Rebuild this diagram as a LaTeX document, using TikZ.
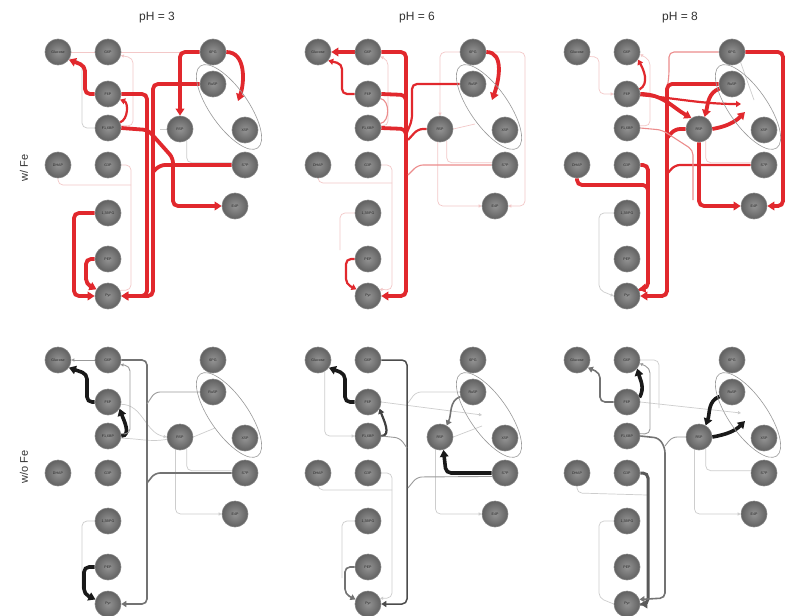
\documentclass[tikz,border=0pt]{standalone}
\usepackage{fontspec}
\setmainfont{Liberation Sans}
\usetikzlibrary{arrows.meta,shapes.geometric}
\pgfdeclarelayer{bg}
\pgfsetlayers{bg,main}
\definecolor{rH}{RGB}{225,40,45}
\definecolor{rL}{RGB}{236,140,140}
\definecolor{rF}{RGB}{243,200,200}
\definecolor{gF}{RGB}{205,205,205}
\tikzset{
 met/.style={circle, minimum size=26pt, inner sep=0pt, draw=black!50, line width=0.6pt,
   inner color=black!42, outer color=black!62, font=\fontsize{3.6}{4}\selectfont, text=black!85},
 ell/.style={ellipse, draw=black!40, line width=0.6pt, minimum width=100pt, minimum height=38pt, inner sep=0pt, rotate=-55},
 rc/.style={rounded corners=5pt},
 tipH/.style={-{Triangle[length=7pt,width=8.5pt]}},
 tipM/.style={-{Triangle[length=5pt,width=6pt]}},
 tipL/.style={-{Triangle[length=3pt,width=3pt]}},
 hR/.style={draw=rH, line width=3.8pt},
 mR/.style={draw=rH, line width=2.2pt},
 lR/.style={draw=rL, line width=1.1pt},
 fR/.style={draw=rF, line width=0.7pt},
 fG/.style={draw=gF, line width=0.7pt},
 hK/.style={draw=black!90, line width=3.6pt},
 hK2/.style={draw=black!65, line width=3pt},
 mK/.style={draw=black!55, line width=1.6pt},
 mK2/.style={draw=black!75, line width=2.2pt},
 mK3/.style={draw=black!70, line width=1.5pt},
 lK/.style={draw=black!40, line width=0.9pt},
 ptitle/.style={font=\fontsize{12}{14}\selectfont, text=black!80},
 rowlab/.style={font=\fontsize{11}{13}\selectfont, text=black!80, rotate=90},
}
\newcommand\metnodes[1]{%
\node[ell] (#1ell) at (229,107) {};
\node[met] (#1glc) at (58,52) {Glucose};
\node[met] (#1g6p) at (108,52) {G6P};
\node[met] (#1f6p) at (108,94) {F6P};
\node[met] (#1fbp) at (108,128) {F1,6BP};
\node[met] (#1dhap) at (58,165) {DHAP};
\node[met] (#1g3p) at (108,165) {G3P};
\node[met] (#1bpg) at (108,213) {1,3BPG};
\node[met] (#1pep) at (108,259) {PEP};
\node[met] (#1pyr) at (108,296) {Pyr};
\node[met] (#1pg) at (213,52) {6PG};
\node[met] (#1ru) at (213,84) {Ru5P};
\node[met] (#1r5p) at (180,129) {R5P};
\node[met] (#1x5p) at (245,130) {X5P};
\node[met] (#1s7p) at (245,165) {S7P};
\node[met] (#1e4p) at (235,206) {E4P};
}
\begin{document}
\begin{tikzpicture}[x=1pt,y=-1pt]
\useasboundingbox (0,0) rectangle (785,616);
\begin{pgfonlayer}{bg}
\fill[white] (0,0) rectangle (785,616);
\end{pgfonlayer}
\node[ptitle] (t1) at (157,18) {pH = 3};
\node[ptitle] (t2) at (417,18) {pH = 6};
\node[ptitle] (t3) at (680,18) {pH = 8};
\node[rowlab] (s1) at (24,168) {w/ Fe};
\node[rowlab] (s2) at (24,467) {w/o Fe};

% ---------- panel a: pH 3, w/ Fe
\begin{scope}[shift={(0,0)}]
\metnodes{a}
\coordinate (aX) at (238,101);
\begin{pgfonlayer}{bg}
\draw[fR] (aglc) -- (ag6p);
\draw[fR] (ag6p) -- (apg);
\draw[fG,rc] (aglc.-30) -- (82,62) -- (82,128) -- (afbp.west);
\draw[fR,rc,tipL] (afbp.10) -- (133,126) -- (133,58) -- (ag6p.-15);
\draw[fG] (ar5p.west) -- (160,129);
\draw[fG,rc] (ar5p.-60) |- (as7p.170);
\draw[fR,rc] (adhap.south) -- (58,185) -- (131,185);
\draw[fR,rc] (ag3p.east) -- (131,165) -- (131,290) -- (apyr.25);
\draw[hR,rc,tipH] (af6p.west) -- (85,94) -- (85,66) -- (aglc.-35);
\draw[hR,rc,tipH] (aru.west) -- (153,84) -- (153,296) -- (apyr.east);
\draw[hR,rc,tipH] (af6p.east) -- (147,94) -- (147,296) -- (apyr.east);
\draw[hR,rc] (as7p.west) -- (160,165) -- (153,172);
\draw[hR,rc,tipH] (afbp.east) -- (148,130) -- (173,158) -- (173,206) -- (ae4p.west);
\draw[hR,rc,tipH] (apg.west) -| (ar5p.north);
\draw[hR,tipH] (apg.east) to[out=0,in=70] (aX);
\draw[mR,tipM] (afbp.25) to[out=20,in=-20] (af6p.-25);
\draw[hR,rc,tipH] (abpg.west) -- (74,213) -- (74,296) -- (apyr.west);
\draw[hR,rc,tipH] (apep.west) -- (86,259) -- (86,284) -- (apyr.150);
\end{pgfonlayer}
\end{scope}

% ---------- panel b: pH 6, w/ Fe
\begin{scope}[shift={(260,0)}]
\metnodes{b}
\coordinate (bX) at (232,100);
\begin{pgfonlayer}{bg}
\draw[fR,rc,tipL] (bpg.west) -| (br5p.north);
\draw[fR,rc,tipL] (br5p.-100) |- (be4p.west);
\draw[fR,rc,tipL] (bpg.east) -- (265,52) -- (265,206) -- (be4p.east);
\draw[fR,rc] (br5p.-60) |- (bs7p.170);
\draw[fR] (br5p.east) -- (215,124);
\draw[fR,rc] (bdhap.south) -- (58,183) -- (132,183);
\draw[fR,rc,tipL] (bg3p.east) -- (132,165) -- (132,290) -- (bpyr.30);
\draw[fR,rc] (bbpg.west) -- (80,213) -- (80,250);
\draw[fR,rc,tipL] (bfbp.10) -- (128,126) -- (128,60) -- (bg6p.-20);
\draw[hR,tipH] (bg6p.west) -- (bglc.east);
\draw[mR,rc,tipM] (bf6p.west) -- (82,94) -- (82,64) -- (bglc.-40);
\draw[hR,rc,tipH] (bg6p.east) -- (146,52) -- (146,296) -- (bpyr.east);
\draw[hR,rc] (bf6p.east) -- (146,95) -- (146,105);
\draw[hR,rc] (bfbp.east) -- (146,129) -- (146,140);
\draw[lR] (bf6p.-20) to[out=-10,in=10] (bfbp.20);
\draw[mR,rc] (bru.west) -- (152,84) -- (152,120) -- (146,135);
\draw[mR,rc] (br5p.west) -- (158,129) -- (148,140);
\draw[lR,rc] (bs7p.west) -- (158,165) -- (148,175);
\draw[hR,tipH] (bpg.east) to[out=0,in=70] (bX);
\draw[mR,rc,tipM] (bpep.west) -- (86,259) -- (86,284) -- (bpyr.150);
\end{pgfonlayer}
\end{scope}

% ---------- panel c: pH 8, w/ Fe
\begin{scope}[shift={(519,0)}]
\metnodes{c}
\coordinate (cA) at (222,104);
\coordinate (cB) at (226,112);
\begin{pgfonlayer}{bg}
\draw[fR,rc,tipL] (cglc.-20) -- (80,57) -- (80,94) -- (cf6p.west);
\draw[fR,rc,tipL] (cfbp.10) -- (131,126) -- (131,60) -- (cg6p.-10);
\draw[fG,rc,tipL] (cbpg.west) -- (80,213) -- (80,290) -- (cpyr.west);
\draw[fR,rc] (cr5p.-60) |- (cs7p.170);
\draw[fG] (cpg.-50) -- (235,100);
\draw[mR,tipM] (cf6p.20) to[out=30,in=-60] (cg6p.-35);
\draw[hR,rc,tipH] (cpg.east) -- (264,52) -- (264,206) -- (ce4p.east);
\draw[lR,rc] (cpg.west) -- (150,52) -- (150,75) -- (148,90);
\draw[hR,rc,tipH] (cru.west) -- (148,84) -- (148,296) -- (cpyr.east);
\draw[hR,rc] (cr5p.west) -- (156,129) -- (148,138);
\draw[mR,rc] (cs7p.west) -- (156,165) -- (148,174);
\draw[hR,tipH] (cru.200) to[out=200,in=75] (cr5p.65);
\draw[hR,tipH] (cf6p.east) to[out=0,in=150] (cr5p.125);
\draw[mR,tipM] (cf6p.-5) to[out=-5,in=180] (cA);
\draw[hR,tipH] (cr5p.east) to[out=10,in=-135] (cB);
\draw[hR,rc,tipH] (cr5p.south) -- (180,206) -- (ce4p.west);
\draw[lR,rc] (cfbp.east) -- (143,130) -- (174,150) -- (174,200);
\draw[hR,rc,tipH] (cdhap.south) -- (58,185) -- (129,185) -- (129,288) -- (cpyr.30);
\draw[hR,rc] (cg3p.east) -- (129,165) -- (129,195);
\end{pgfonlayer}
\end{scope}

% ---------- panel d: pH 3, w/o Fe
\begin{scope}[shift={(0,308)}]
\metnodes{d}
\begin{pgfonlayer}{bg}
\draw[fG,tipL] (df6p.-10) to[out=0,in=170] (dr5p.west);
\draw[fG] (dfbp.-10) to[out=0,in=190] (dr5p.190);
\draw[fG,rc] (dr5p.-60) |- (ds7p.170);
\draw[fG] (dr5p.east) -- (215,120);
\draw[fG,rc,tipL] (dr5p.-110) |- (de4p.west);
\draw[fG,rc] (dbpg.west) -- (82,213) -- (82,280);
\draw[lK,tipL] (dg6p.west) -- (dglc.east);
\draw[hK,rc,tipH] (df6p.west) -- (87,94) -- (87,66) -- (dglc.-35);
\draw[hK,tipH] (dfbp.east) to[out=0,in=-70] (df6p.-30);
\draw[mK,rc,tipM] (dg6p.east) -- (147,52) -- (147,296) -- (dpyr.east);
\draw[lK,rc,tipL] (dfbp.10) -- (130,126) -- (130,58) -- (dg6p.-20);
\draw[lK,rc] (dru.west) -- (155,84) -- (147,96);
\draw[mK,rc] (ds7p.west) -- (155,165) -- (147,175);
\draw[hK,rc,tipH] (dpep.west) -- (84,259) -- (84,286) -- (dpyr.160);
\end{pgfonlayer}
\end{scope}

% ---------- panel e: pH 6, w/o Fe
\begin{scope}[shift={(260,308)}]
\metnodes{e}
\coordinate (eA) at (222,107);
\begin{pgfonlayer}{bg}
\draw[fG,rc] (eru.west) -- (156,84) -- (148,95);
\draw[fG,tipL] (ef6p.east) -- (eA);
\draw[fG] (er5p.east) -- (222,118);
\draw[fG,rc,tipL] (eglc.-60) |- (efbp.west);
\draw[fG,rc,tipL] (eg3p.east) -- (132,165) -- (132,290) -- (epyr.25);
\draw[fG,rc] (edhap.south) -- (58,182) -- (132,182);
\draw[fG,rc,tipL] (er5p.-110) |- (ee4p.west);
\draw[fG,rc] (ebpg.west) -- (82,213) -- (82,270);
\draw[hK,rc,tipH] (ef6p.west) -- (85,94) -- (85,66) -- (eglc.-35);
\draw[mK2,tipM] (efbp.east) to[out=0,in=-70] (ef6p.-30);
\draw[mK3,rc,tipM] (eg6p.east) -- (147,52) -- (147,296) -- (epyr.east);
\draw[hK,rc,tipH] (es7p.west) -- (186,165) -- (er5p.-75);
\draw[mK,tipM] (eru.200) to[out=200,in=65] (er5p.60);
\draw[lK,rc] (efbp.east) -- (140,130) -- (147,140);
\draw[lK,rc] (es7p.-165) -- (157,169) -- (148,180);
\draw[mK,rc,tipM] (epep.west) -- (85,259) -- (85,286) -- (epyr.160);
\end{pgfonlayer}
\end{scope}

% ---------- panel f: pH 8, w/o Fe
\begin{scope}[shift={(519,308)}]
\metnodes{f}
\coordinate (fA) at (222,105);
\coordinate (fB) at (226,113);
\begin{pgfonlayer}{bg}
\draw[fG,tipL] (ff6p.east) -- (fA);
\draw[fG,rc] (fr5p.-60) |- (fs7p.170);
\draw[fG,rc,tipL] (fr5p.-110) |- (fe4p.west);
\draw[fG,rc] (fdhap.south) -- (58,185) -- (128,187);
\draw[fG,rc] (fbpg.west) -- (80,213) -- (80,290) -- (fpyr.west);
\draw[fG,rc] (fg6p.east) -- (140,52) -- (140,100);
\draw[mK,rc,tipM] (ff6p.west) -- (81,94) -- (81,65) -- (fglc.-35);
\draw[hK,tipH] (ff6p.20) to[out=60,in=-75] (fg6p.-40);
\draw[lK,rc,tipL] (ffbp.10) -- (131,126) -- (131,60) -- (fg6p.-15);
\draw[hK,tipH] (fru.200) to[out=200,in=70] (fr5p.60);
\draw[hK,tipH] (fr5p.east) to[out=10,in=-135] (fB);
\draw[hK2,rc,tipH] (fg3p.east) -- (129,165) -- (129,296) -- (fpyr.east);
\draw[mK,rc,tipM] (ffbp.east) -- (140,130) -- (146,140) -- (146,290) -- (fpyr.20);
\draw[lK,rc] (fr5p.west) -- (153,129) -- (146,138);
\end{pgfonlayer}
\end{scope}
\end{tikzpicture}
\end{document}
